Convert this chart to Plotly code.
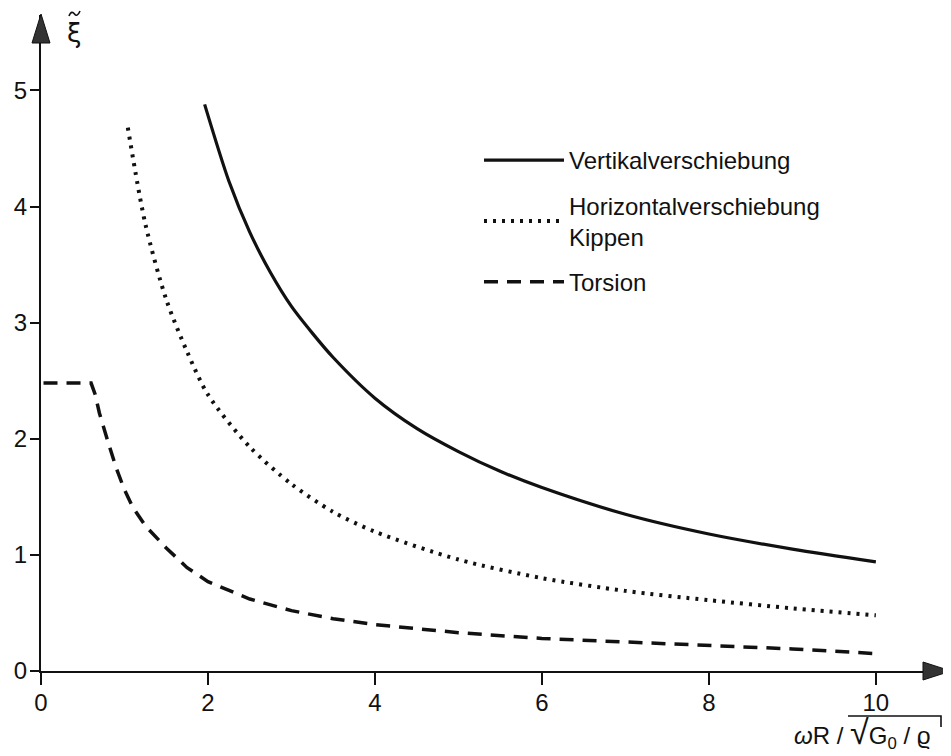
import plotly.graph_objects as go

# ---- data ----
vert_x = [1.96, 2.25, 2.5, 2.75, 3.0, 3.25, 3.5, 4.0, 4.5, 5.0, 5.5, 6.0, 7.0, 8.0, 9.0, 10.0]
vert_y = [4.88, 4.22, 3.78, 3.43, 3.14, 2.91, 2.70, 2.35, 2.09, 1.89, 1.72, 1.58, 1.35, 1.18, 1.05, 0.94]

horiz_x = [1.04, 1.25, 1.5, 1.75, 2.0, 2.5, 3.0, 3.5, 4.0, 5.0, 6.0, 7.0, 8.0, 9.0, 10.0]
horiz_y = [4.68, 3.85, 3.20, 2.75, 2.38, 1.93, 1.61, 1.37, 1.20, 0.96, 0.80, 0.69, 0.61, 0.54, 0.48]

tors_x = [0.03, 0.6, 0.65, 0.7, 0.8, 0.9, 1.0, 1.1, 1.25, 1.5, 1.75, 2.0, 2.5, 3.0, 3.5, 4.0, 5.0, 6.0, 7.0, 8.0, 9.0, 10.0]
tors_y = [2.48, 2.48, 2.38, 2.22, 1.98, 1.75, 1.56, 1.41, 1.25, 1.06, 0.89, 0.77, 0.62, 0.52, 0.45, 0.40, 0.33, 0.28, 0.25, 0.22, 0.19, 0.15]

x_ticks = [0, 2, 4, 6, 8, 10]
y_ticks = [0, 1, 2, 3, 4, 5]

names = ["Vertikalverschiebung", "Horizontalverschiebung<br>Kippen", "Torsion"]

FONT = "Liberation Sans"
INK = "#111111"

fig = go.Figure()
fig.add_trace(go.Scatter(x=vert_x, y=vert_y, mode="lines", name=names[0],
                         legendgroup="a", line=dict(color=INK, width=3.2, shape="spline", smoothing=0.8)))
fig.add_trace(go.Scatter(x=horiz_x, y=horiz_y, mode="lines", name=names[1],
                         legendgroup="b", line=dict(color=INK, width=4, dash="3px,6px",
                                                    shape="spline", smoothing=0.8)))
fig.add_trace(go.Scatter(x=tors_x, y=tors_y, mode="lines", name=names[2],
                         legendgroup="c", line=dict(color=INK, width=3.5, dash="14px,9px")))

# the page body has an 8px margin, so the figure is drawn 8px in from the window corner
OFF = 8
W, H = 951 - OFF, 756 - OFF
L, R, T, B = 33, 0, 7, 85
pw, ph = W - L - R, H - T - B

def px(xp):  # window pixel -> paper x
    return (xp - OFF - L) / pw

def py(yp):  # window pixel -> paper y
    return (H - B - (yp - OFF)) / ph

shapes = [
    # y-axis arrowhead
    dict(type="path", xref="paper", yref="paper",
         path=f"M {px(41)} {py(14)} L {px(32)} {py(43)} L {px(50)} {py(43)} Z",
         fillcolor="#333333", line=dict(color=INK, width=1)),
    # x-axis arrowhead
    dict(type="path", xref="paper", yref="paper",
         path=f"M {px(951)} {py(671)} L {px(923)} {py(662)} L {px(923)} {py(680)} Z",
         fillcolor="#333333", line=dict(color=INK, width=1)),
    # tilde over xi
    dict(type="path", xref="paper", yref="paper",
         path=(f"M {px(69)} {py(16)} C {px(71)} {py(11)} {px(73)} {py(12)} {px(74.5)} {py(14)} "
               f"C {px(76)} {py(16)} {px(78)} {py(16)} {px(80)} {py(11)}"),
         line=dict(color=INK, width=1.6)),
    # overline of the square root in the x-axis title
    dict(type="path", xref="paper", yref="paper",
         path=f"M {px(848)} {py(716)} L {px(941)} {py(716)} L {px(941)} {py(727)}",
         line=dict(color=INK, width=1.6)),
]

annotations = [
    dict(text="ξ", xref="paper", yref="paper", x=px(74), y=py(33),
         xanchor="center", yanchor="middle", showarrow=False,
         font=dict(family="DejaVu Sans", size=26, color=INK)),
    dict(text="<i>ω</i>R / <span style='font-size:34px'>√</span>G<sub>0</sub> / ϱ",
         xref="paper", yref="paper", x=px(932), y=py(755),
         xanchor="right", yanchor="bottom", showarrow=False,
         font=dict(family=FONT, size=24, color=INK)),
]

fig.update_layout(
    width=W, height=H,
    margin=dict(l=L, r=R, t=T, b=B, pad=0, autoexpand=False),
    paper_bgcolor="white", plot_bgcolor="white",
    font=dict(family=FONT, size=24, color=INK),
    showlegend=True,
    legend=dict(x=px(479), y=py(138), xanchor="left", yanchor="top",
                bgcolor="rgba(0,0,0,0)", tracegroupgap=11, itemwidth=80,
                font=dict(family=FONT, size=24, color=INK)),
    xaxis=dict(range=[0, 10.9], tickvals=x_ticks, ticktext=[str(v) for v in x_ticks],
               showgrid=False, zeroline=False, showline=True, linecolor=INK, linewidth=2,
               ticks="outside", ticklen=12, tickwidth=2, tickcolor=INK, automargin=False,
               ticklabelstandoff=-3, tickfont=dict(size=24)),
    yaxis=dict(range=[0, 5.65], tickvals=y_ticks, ticktext=[str(v) for v in y_ticks],
               showgrid=False, zeroline=False, showline=True, linecolor=INK, linewidth=2,
               ticks="outside", ticklen=9, tickwidth=2, tickcolor=INK, automargin=False,
               ticklabelstandoff=-2, tickfont=dict(size=24)),
    shapes=shapes,
    annotations=annotations,
)

fig.write_html("out.html")
